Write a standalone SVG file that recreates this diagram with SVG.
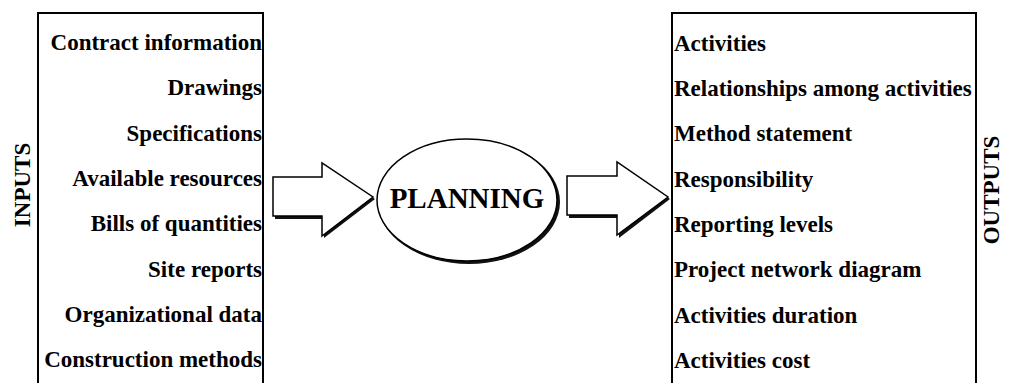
<svg xmlns="http://www.w3.org/2000/svg" width="1013" height="383" viewBox="0 0 1013 383">
<style>
.t{font-family:"Liberation Serif","Times New Roman",serif;font-weight:bold;font-size:23px;fill:#000}
.l{text-anchor:end}
.box{fill:none;stroke:#000;stroke-width:2}
.shape{fill:#fff;stroke:#000;stroke-width:1.5}
.shadow{fill:#111}
</style>
<rect width="1013" height="383" fill="#fff"/>
<g id="inputs">
<path class="box" d="M38,384 V13 H263 V384"/>
<text class="t" transform="translate(30,185) rotate(-90)" text-anchor="middle">INPUTS</text>
<text class="t l" x="262" y="50">Contract information</text>
<text class="t l" x="262" y="95">Drawings</text>
<text class="t l" x="262" y="141">Specifications</text>
<text class="t l" x="262" y="186">Available resources</text>
<text class="t l" x="262" y="231">Bills of quantities</text>
<text class="t l" x="262" y="277">Site reports</text>
<text class="t l" x="262" y="322">Organizational data</text>
<text class="t l" x="262" y="367">Construction methods</text>
</g>
<g id="planning">
<ellipse class="shadow" cx="469" cy="202" rx="91" ry="62"/>
<ellipse class="shape" cx="467" cy="200" rx="90" ry="61"/>
<text class="t" x="467" y="208" text-anchor="middle" style="font-size:29px">PLANNING</text>
</g>
<g id="outputs">
<path class="box" d="M672,384 V13 H976 V384"/>
<text class="t" transform="translate(999,190) rotate(-90)" text-anchor="middle">OUTPUTS</text>
<text class="t" x="674" y="51">Activities</text>
<text class="t" x="674" y="96">Relationships among activities</text>
<text class="t" x="674" y="141">Method statement</text>
<text class="t" x="674" y="187">Responsibility</text>
<text class="t" x="674" y="232">Reporting levels</text>
<text class="t" x="674" y="277">Project network diagram</text>
<text class="t" x="674" y="323">Activities duration</text>
<text class="t" x="674" y="368">Activities cost</text>
</g>
<g id="connectors">
<path class="shadow" d="M275,180 H324 V166 L375,199 L324,238 V219 H275 Z"/>
<path class="shape" d="M273,177 H322 V163 L373,197 L322,236 V216 H273 Z"/>
<path class="shadow" d="M569,179 H619 V165 L670,199 L619,238 V218 H569 Z"/>
<path class="shape" d="M567,176 H617 V162 L668,197 L617,235 V215 H567 Z"/>
</g>
</svg>
